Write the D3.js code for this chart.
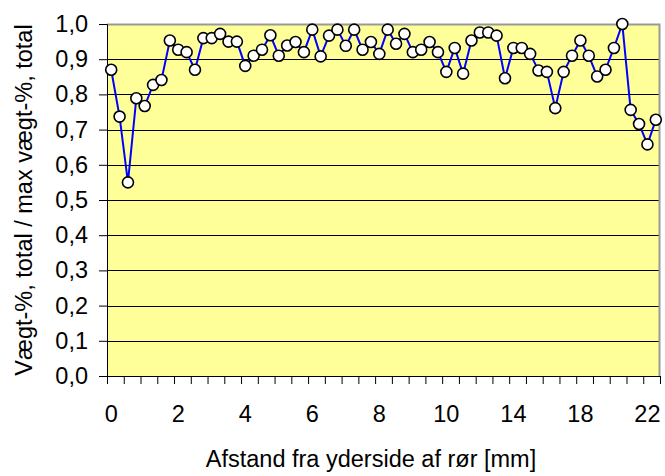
<!DOCTYPE html>
<html>
<head>
<meta charset="utf-8">
<script src="https://cdn.jsdelivr.net/npm/d3@7"></script>
<style>
  body { margin: 0; background: #fff; }
  svg text { font-family: "Liberation Sans", Arial, sans-serif; fill: #000; }
</style>
</head>
<body>
<div id="chart"></div>
<script>
// x categories (mm from outer side of pipe): 0.25 steps to 10, then 0.5 steps
const distances = [
	0, 0.25, 0.5, 0.75, 1, 1.25, 1.5, 1.75, 2, 2.25, 2.5, 2.75, 3, 3.25, 3.5, 3.75,
	4, 4.25, 4.5, 4.75, 5, 5.25, 5.5, 5.75, 6, 6.25, 6.5, 6.75, 7, 7.25, 7.5, 7.75,
	8, 8.25, 8.5, 8.75, 9, 9.25, 9.5, 9.75, 10, 10.5, 11, 11.5, 12, 12.5, 13, 13.5,
	14, 14.5, 15, 15.5, 16, 16.5, 17, 17.5, 18, 18.5, 19, 19.5, 20, 20.5, 21, 21.5,
	22, 22.5,
];

// relative weight-%, total / max
const ratio = [
	0.870, 0.737, 0.550, 0.789, 0.767, 0.827, 0.841, 0.953, 0.927, 0.920,
	0.870, 0.960, 0.960, 0.972, 0.950, 0.950, 0.881, 0.910, 0.927, 0.968,
	0.910, 0.939, 0.949, 0.920, 0.984, 0.908, 0.967, 0.984, 0.938, 0.984,
	0.927, 0.949, 0.915, 0.984, 0.944, 0.972, 0.920, 0.927, 0.949, 0.920,
	0.864, 0.932, 0.859, 0.953, 0.976, 0.976, 0.967, 0.846, 0.932, 0.932,
	0.915, 0.868, 0.864, 0.761, 0.864, 0.910, 0.953, 0.910, 0.851, 0.870,
	0.932, 1.000, 0.756, 0.716, 0.658, 0.728,
];

const yTicks = [0, 0.1, 0.2, 0.3, 0.4, 0.5, 0.6, 0.7, 0.8, 0.9, 1.0];
const xLabelEvery = 8;
const xTickEvery = 2;

const width = 665;
const height = 476;
const margin = { top: 24, right: 5, bottom: 100, left: 107 };
const w = width - margin.left - margin.right;
const h = height - margin.top - margin.bottom;
const fontSize = "23.5px";

const svg = d3.select("#chart")
	.append("svg")
	.attr("width", width)
	.attr("height", height);

const g = svg.append("g")
	.attr("transform", `translate(${margin.left},${margin.top})`);

const x = d3.scaleBand()
	.domain(distances.map((d, i) => i))
	.range([0, w]);

const xIdx = d3.scaleLinear().domain([0, distances.length]).range([0, w]);

const y = d3.scaleLinear().domain([0, 1]).range([h, 0]);

const comma = (v) => d3.format(".1f")(v).replace(".", ",");

// plot background
g.append("rect")
	.attr("width", w)
	.attr("height", h)
	.attr("fill", "#ffff99");

// gridlines
g.append("g")
	.selectAll("line")
	.data(yTicks.filter((t) => t > 0 && t < 1))
	.enter()
	.append("line")
	.attr("x1", 0)
	.attr("x2", w)
	.attr("y1", (d) => Math.round(y(d)) + 0.5)
	.attr("y2", (d) => Math.round(y(d)) + 0.5)
	.attr("stroke", "#000")
	.attr("stroke-width", 1);

// top + right border
g.append("path")
	.attr("d", `M0,${y(1) + 0.5}H${w - 0.5}V${h}`)
	.attr("fill", "none")
	.attr("stroke", "#999")
	.attr("stroke-width", 2);

// y axis
const yAxis = d3.axisLeft(y)
	.tickValues(yTicks)
	.tickFormat(comma)
	.tickSize(8)
	.tickPadding(11);

g.append("g")
	.attr("class", "y-axis")
	.call(yAxis)
	.call((s) => s.select(".domain").attr("stroke", "#000"))
	.call((s) => s.selectAll("text").attr("font-size", fontSize));

// x axis tick marks between categories
const xTickAxis = d3.axisBottom(xIdx)
	.tickValues(d3.range(0, distances.length + 1, xTickEvery))
	.tickFormat("")
	.tickSize(8)
	.tickSizeOuter(0);

g.append("g")
	.attr("transform", `translate(0,${h})`)
	.call(xTickAxis);

// x labels at every 8th category
const xLabelAxis = d3.axisBottom(x)
	.tickValues(distances.map((d, i) => i).filter((i) => i % xLabelEvery === 0))
	.tickFormat((i) => distances[i])
	.tickSize(0)
	.tickPadding(29);

g.append("g")
	.attr("transform", `translate(0,${h})`)
	.call(xLabelAxis)
	.call((s) => s.select(".domain").remove())
	.call((s) => s.selectAll("text").attr("font-size", fontSize));

// line
const cx = (i) => x(i) + x.bandwidth() / 2;

g.append("path")
	.datum(ratio)
	.attr("fill", "none")
	.attr("stroke", "#0000ff")
	.attr("stroke-width", 2)
	.attr("d", d3.line().x((d, i) => cx(i)).y((d) => y(d)));

// markers
g.append("g")
	.selectAll("circle")
	.data(ratio)
	.enter()
	.append("circle")
	.attr("cx", (d, i) => cx(i))
	.attr("cy", (d) => y(d))
	.attr("r", 5.5)
	.attr("fill", "#fff")
	.attr("stroke", "#000")
	.attr("stroke-width", 1.6);

// axis titles
svg.append("text")
	.attr("x", 371)
	.attr("y", 467)
	.attr("text-anchor", "middle")
	.attr("font-size", fontSize)
	.text("Afstand fra yderside af rør [mm]");

svg.append("text")
	.attr("transform", `translate(32,${margin.top + h / 2}) rotate(-90)`)
	.attr("text-anchor", "middle")
	.attr("font-size", fontSize)
	.text("Vægt-%, total / max vægt-%, total");
</script>
</body>
</html>
